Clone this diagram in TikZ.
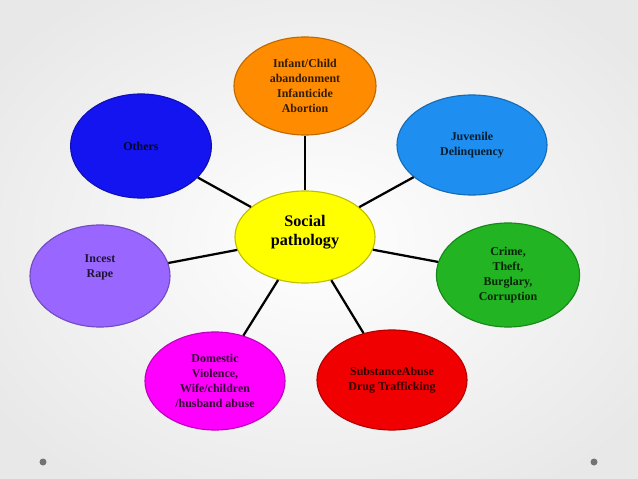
\documentclass[tikz,border=0pt]{standalone}
\usepackage{fontspec}
\setmainfont{Liberation Serif}
\usepackage{xcolor}
\usetikzlibrary{shapes.geometric, positioning}

\definecolor{orng}{HTML}{FF8C00}
\definecolor{othblue}{HTML}{1414F0}
\definecolor{juvblue}{HTML}{1E8FF0}
\definecolor{socyel}{HTML}{FFFF00}
\definecolor{incpurp}{HTML}{9966FF}
\definecolor{crigreen}{HTML}{22B422}
\definecolor{dommag}{HTML}{FF00FF}
\definecolor{subred}{HTML}{F00000}

\begin{document}
\begin{tikzpicture}[x=0.025cm,y=-0.025cm,thick,
    blob/.style={ellipse,draw=#1!75!black,fill=#1,line width=0.8pt,inner sep=0pt,
        align=center,text=#1!20!black,font=\fontsize{8.5}{10.6}\selectfont\bfseries},
    spoke/.style={line width=1.6pt,black}]
    \useasboundingbox (0,0) rectangle (638,479);
    \fill[black!9] (0,0) rectangle (638,479);
    \shade[inner color=white,outer color=black!9] (-80,-60) rectangle (718,539);
    \fill[black!55] (43,462) circle (3.5) (594,462) circle (3.5);

    \node[blob=socyel,minimum width=3.5cm,minimum height=2.3cm,text=black,
          font=\fontsize{11.5}{13.5}\selectfont\bfseries] (soc) at (305,237) {Social\\pathology\\[-4pt]};
    \node[blob=orng,minimum width=3.55cm,minimum height=2.45cm] (inf) at (305,86) {Infant/Child\\abandonment\\Infanticide\\Abortion};
    \node[blob=othblue,minimum width=3.52cm,minimum height=2.6cm] (oth) at (141,146) {Others};
    \node[blob=juvblue,minimum width=3.75cm,minimum height=2.5cm] (juv) at (472,145) {Juvenile\\Delinquency};
    \node[blob=incpurp,minimum width=3.5cm,minimum height=2.55cm] (inc) at (100,276) {Incest\\Rape\\[3pt]};
    \node[blob=crigreen,minimum width=3.58cm,minimum height=2.6cm] (cri) at (508,275) {Crime,\\Theft,\\Burglary,\\Corruption};
    \node[blob=dommag,minimum width=3.5cm,minimum height=2.45cm] (dom) at (215,381) {Domestic\\Violence,\\Wife/children\\/husband abuse};
    \node[blob=subred,minimum width=3.75cm,minimum height=2.5cm] (sub) at (392,380) {SubstanceAbuse\\Drug Trafficking};

    \path[spoke] (soc) edge (inf)
          (soc) edge (oth)
          (soc) edge (juv)
          (soc) edge (inc)
          (soc) edge (cri)
          (soc) edge (dom)
          (soc) edge (sub);
\end{tikzpicture}
\end{document}
